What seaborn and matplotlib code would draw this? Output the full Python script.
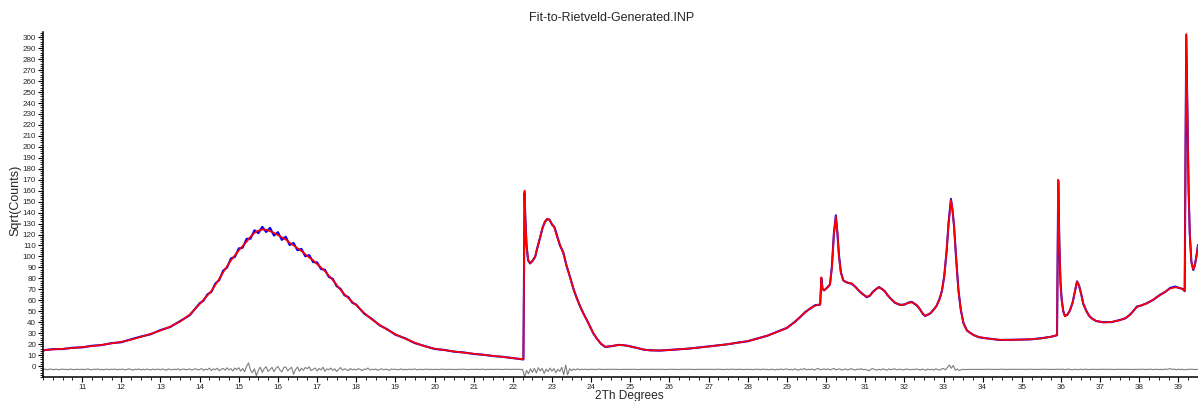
import numpy as np
import pandas as pd
import matplotlib
matplotlib.use("Agg")
import matplotlib.pyplot as plt
from matplotlib.ticker import MultipleLocator
import seaborn as sns

# ---------------- data ----------------
two_theta = [
    10.0, 10.25, 10.5, 10.75, 11.0, 11.25, 11.5, 11.75, 12.0, 12.25,
    12.5, 12.75, 13.0, 13.25, 13.5, 13.75, 14.0, 14.1, 14.2, 14.3,
    14.4, 14.5, 14.6, 14.7, 14.8, 14.9, 15.0, 15.1, 15.2, 15.3,
    15.4, 15.5, 15.6, 15.7, 15.8, 15.9, 16.0, 16.1, 16.2, 16.3,
    16.4, 16.5, 16.6, 16.7, 16.8, 16.9, 17.0, 17.1, 17.2, 17.3,
    17.4, 17.5, 17.6, 17.7, 17.8, 17.9, 18.0, 18.2, 18.4, 18.6,
    18.8, 19.0, 19.25, 19.5, 19.75, 20.0, 20.25, 20.5, 20.75, 21.0,
    21.25, 21.5, 21.75, 22.0, 22.27, 22.30, 22.32, 22.35, 22.39, 22.44,
    22.5, 22.57, 22.63, 22.7, 22.76, 22.82, 22.88, 22.94, 23.0, 23.06,
    23.12, 23.2, 23.29, 23.37, 23.46, 23.55, 23.63, 23.72, 23.8, 23.9,
    23.97, 24.05, 24.14, 24.25, 24.36, 24.46, 24.57, 24.7, 24.82, 24.95,
    25.08, 25.2, 25.35, 25.5, 25.75, 26.0, 26.5, 27.0, 27.5, 27.75,
    28.0, 28.25, 28.5, 28.75, 29.0, 29.2, 29.34, 29.47, 29.59, 29.72,
    29.85, 29.88, 29.91, 29.95, 30.02, 30.1, 30.15, 30.2, 30.25, 30.29,
    30.33, 30.38, 30.44, 30.5, 30.58, 30.66, 30.75, 30.83, 30.93, 31.04,
    31.12, 31.2, 31.28, 31.35, 31.43, 31.5, 31.57, 31.64, 31.76, 31.89,
    32.0, 32.1, 32.19, 32.26, 32.32, 32.4, 32.47, 32.53, 32.6, 32.67,
    32.74, 32.82, 32.9, 32.96, 33.02, 33.08, 33.13, 33.19, 33.23, 33.27,
    33.32, 33.38, 33.44, 33.51, 33.6, 33.76, 33.9, 34.1, 34.44, 34.8,
    35.21, 35.5, 35.75, 35.9, 35.93, 35.96, 35.99, 36.02, 36.06, 36.1,
    36.16, 36.23, 36.3, 36.36, 36.41, 36.46, 36.52, 36.57, 36.65, 36.72,
    36.78, 36.9, 37.08, 37.3, 37.51, 37.65, 37.76, 37.85, 37.94, 38.05,
    38.19, 38.35, 38.53, 38.66, 38.79, 38.92, 39.04, 39.11, 39.16, 39.2,
    39.23, 39.26, 39.29, 39.33, 39.38, 39.42, 39.46, 39.5]

calc_sqrt = [
    14.6, 15.1, 15.7, 16.4, 17.3, 18.2, 19.3, 20.6, 22.0, 24.1,
    26.6, 29.3, 32.4, 36.0, 40.5, 47.0, 56.5, 60.5, 64.5, 68.5,
    74.0, 79.5, 85.5, 91.0, 96.5, 101.0, 105.5, 109.5, 113.5, 118.0,
    121.5, 123.5, 124.5, 124.5, 123.0, 121.5, 119.5, 117.5, 115.5, 112.5,
    110.0, 107.5, 105.0, 102.0, 99.0, 96.5, 93.0, 90.0, 86.5, 82.5,
    78.5, 74.0, 69.5, 65.5, 62.0, 58.5, 55.5, 48.5, 42.5, 37.5,
    33.0, 29.0, 25.0, 21.2, 18.0, 15.8, 14.5, 13.3, 12.2, 11.2,
    10.2, 9.3, 8.3, 7.3, 6.2, 160.0, 135.0, 110.0, 97.0, 94.0,
    95.5, 100.0, 108.0, 118.0, 126.0, 132.0, 134.5, 133.0, 129.5, 126.5,
    119.0, 111.0, 103.0, 92.0, 81.0, 70.5, 62.0, 54.5, 48.0, 41.5,
    36.0, 30.5, 25.2, 20.5, 17.6, 17.8, 18.6, 19.2, 19.1, 18.3,
    17.3, 16.2, 15.0, 14.3, 14.2, 14.6, 16.0, 17.8, 20.0, 21.3,
    22.8, 25.0, 27.8, 31.0, 35.0, 40.0, 45.0, 49.0, 52.6, 55.0,
    56.5, 81.0, 70.0, 69.3, 71.0, 74.0, 90.0, 120.0, 136.5, 122.0,
    100.0, 85.0, 78.5, 76.5, 76.0, 75.4, 72.0, 69.3, 65.5, 63.2,
    64.5, 67.5, 70.5, 71.7, 70.5, 68.0, 65.0, 61.7, 58.0, 55.6,
    56.3, 57.5, 58.2, 57.0, 55.6, 51.5, 48.0, 46.0, 46.6, 48.5,
    51.0, 55.0, 61.0, 69.0, 82.0, 105.7, 130.0, 151.5, 143.0, 127.0,
    100.0, 69.3, 52.0, 38.9, 32.5, 28.3, 26.5, 25.2, 23.9, 23.9,
    24.4, 25.3, 26.8, 28.3, 170.0, 110.0, 75.0, 60.0, 50.0, 45.5,
    46.5, 51.0, 58.0, 69.0, 76.9, 74.0, 65.0, 57.0, 50.0, 46.0,
    43.5, 41.2, 39.8, 40.3, 41.9, 43.8, 46.5, 50.5, 54.0, 55.5,
    57.0, 60.5, 64.7, 67.8, 70.8, 71.8, 71.4, 70.0, 68.6, 303.0,
    230.0, 160.0, 121.0, 95.0, 88.0, 92.0, 100.0, 110.0]

obs_sqrt = [
    14.3, 15.4, 15.5, 16.7, 17.0, 18.5, 19.1, 20.9, 21.7, 24.4,
    26.9, 29.0, 32.8, 35.6, 41.0, 46.4, 57.2, 59.7, 65.4, 67.6,
    75.2, 78.4, 86.9, 89.8, 98.2, 99.5, 107.3, 108.0, 116.1, 116.2,
    123.9, 121.2, 127.0, 122.3, 126.1, 119.0, 122.2, 115.1, 118.0, 110.4,
    112.3, 105.6, 106.9, 100.1, 101.2, 94.8, 94.6, 88.5, 87.9, 81.3,
    79.6, 72.9, 70.4, 64.6, 62.9, 57.8, 56.1, 47.9, 43.0, 37.1,
    33.4, 28.6, 25.3, 20.9, 18.2, 15.6, 14.7, 13.1, 12.4, 11.0,
    10.3, 9.1, 8.4, 7.2, 6.0, 158.0, 134.0, 110.5, 96.4, 93.6,
    95.9, 99.6, 108.5, 117.5, 126.4, 131.5, 134.0, 133.5, 129.0, 127.0,
    120.2, 110.4, 103.5, 91.6, 81.4, 70.1, 62.3, 54.2, 48.3, 41.2,
    36.3, 30.2, 25.4, 20.3, 17.4, 17.9, 18.4, 19.3, 19.0, 18.4,
    17.2, 16.3, 14.9, 14.4, 14.1, 14.7, 15.9, 17.9, 19.9, 21.4,
    22.6, 25.2, 27.6, 31.3, 34.7, 40.3, 44.6, 49.4, 52.2, 55.5,
    56.0, 80.0, 70.4, 69.0, 71.3, 74.5, 91.0, 121.0, 137.5, 121.0,
    101.0, 85.4, 78.2, 76.8, 75.7, 75.0, 72.3, 69.0, 65.9, 62.8,
    64.1, 67.9, 70.2, 72.1, 70.2, 68.3, 64.7, 62.0, 57.7, 55.9,
    56.0, 57.8, 58.6, 56.7, 55.2, 51.8, 47.6, 45.7, 46.9, 48.2,
    51.3, 54.7, 61.4, 68.6, 82.5, 105.0, 131.0, 152.5, 142.0, 127.5,
    99.4, 69.8, 51.6, 39.2, 32.3, 28.5, 26.3, 25.3, 23.8, 24.0,
    24.3, 25.4, 26.7, 28.1, 169.0, 110.5, 74.6, 60.3, 49.7, 45.8,
    46.8, 50.7, 58.3, 68.6, 77.3, 73.6, 65.3, 56.7, 50.2, 45.8,
    43.7, 41.0, 40.0, 40.1, 42.1, 43.6, 46.8, 50.2, 54.3, 55.2,
    57.3, 60.2, 65.0, 67.5, 71.3, 72.5, 71.0, 70.4, 68.3, 302.0,
    229.0, 160.5, 120.5, 95.4, 87.6, 92.3, 100.4, 110.5]

# difference curve (drawn with its offset) on the 2Th step grid
diff_start = 10.0
diff_step = 0.05
diff_sqrt = [
    -3.2, -2.8, -3.4, -3.0, -2.7, -3.3, -3.1, -2.9, -3.5, -3.0, -2.8, -3.2, -3.0, -3.4, -2.7, -3.1, -3.3, -2.9, -3.0, -3.2,
    -2.9, -3.3, -3.0, -2.6, -3.2, -3.4, -2.9, -3.1, -2.7, -3.3, -3.0, -3.5, -2.8, -3.1, -3.3, -2.9, -3.2, -2.7, -3.4, -3.0,
    -3.1, -2.8, -3.6, -3.0, -2.5, -3.3, -3.7, -2.9, -3.2, -2.6, -3.5, -3.0, -3.4, -2.8, -3.1, -3.6, -2.7, -3.3, -3.0, -2.9,
    -3.4, -2.7, -3.2, -3.8, -2.6, -3.1, -3.5, -2.8, -3.3, -2.5, -3.7, -3.0, -2.7, -3.4, -3.1, -2.6, -3.6, -3.0, -2.4, -3.5,
    -3.1, -2.3, -3.9, -2.8, -3.4, -1.9, -4.1, -2.6, -3.3, -2.0, -4.3, -3.0, -2.2, -3.8, -1.6, -3.5, -2.4, -4.4, -1.9, -3.2,
    -1.5, -4.6, -2.2, -5.2, -0.2, 2.9, -3.8, -6.0, -2.5, -8.9, -4.0, -1.0, -5.8, -2.3, -0.6, -4.9, -3.0, -1.2, -5.1, -2.0,
    -0.4, -3.6, -5.3, -1.4, -0.8, -4.5, -2.6, -1.1, -7.4, -3.2, -0.9, -4.8, -2.0, -3.9, -1.3, -2.4, -0.7, -4.2, -3.0, -1.8,
    -4.5, -2.2, -3.6, -1.0, -4.8, -2.7, -3.3, -1.9, -4.0, -2.5, -5.0, -3.1, -1.4, -3.8, -2.6, -3.2, -4.1, -2.3, -3.5, -2.8,
    -3.6, -2.4, -3.0, -4.2, -2.7, -3.3, -1.8, -3.7, -2.9, -3.4, -2.6, -4.0, -3.1, -2.5, -3.5, -2.8, -3.2, -3.9, -2.7, -3.1,
    -2.9, -3.4, -3.1, -2.6, -3.5, -3.0, -3.3, -2.8, -3.2, -3.0, -2.7, -3.4, -3.1, -2.9, -3.3, -3.0, -2.8, -3.2, -3.0, -3.1,
    -3.2, -2.9, -3.3, -3.0, -2.8, -3.2, -3.0, -3.1, -2.9, -3.2, -3.0, -3.3, -2.9, -3.1, -3.0, -2.8, -3.2, -3.1, -2.9, -3.0,
    -3.1, -3.0, -2.9, -3.2, -3.0, -2.8, -3.3, -3.0, -3.1, -2.9, -3.2, -3.0, -2.9, -3.1, -3.0, -3.2, -2.9, -3.0, -3.1, -3.0,
    -3.0, -3.1, -2.9, -3.0, -3.2, -3.0, -10.0, -4.0, -7.0, -2.5, -5.8, -2.0, -6.3, -1.5, -4.4, -2.2, -6.8, -2.8, -5.0, -1.9,
    -4.6, -2.3, -6.1, -3.0, -4.8, -1.2, -7.9, 0.9, -8.0, -2.4, -4.2, -2.7, -3.6, -2.5, -3.4, -2.9, -3.2, -2.8, -3.3, -3.0,
    -3.1, -2.9, -3.2, -3.0, -2.8, -3.1, -3.0, -3.2, -2.9, -3.0, -3.1, -3.0, -2.9, -3.1, -3.0, -3.2, -3.0, -2.9, -3.1, -3.0,
    -3.0, -3.1, -2.9, -3.0, -3.2, -3.0, -2.9, -3.1, -3.0, -3.0, -3.1, -2.9, -3.0, -3.1, -3.0, -2.9, -3.1, -3.0, -3.2, -3.0,
    -3.1, -2.9, -3.0, -3.1, -3.0, -3.2, -2.9, -3.0, -3.1, -3.0, -2.9, -3.1, -3.0, -3.2, -3.0, -2.9, -3.1, -3.0, -3.0, -3.1,
    -2.9, -3.1, -3.0, -3.2, -2.8, -3.0, -3.1, -3.0, -3.3, -2.9, -3.0, -3.1, -2.8, -3.2, -3.0, -3.1, -2.9, -3.0, -3.2, -3.0,
    -2.9, -3.2, -3.0, -3.4, -2.8, -3.1, -3.0, -3.3, -2.7, -3.2, -3.0, -3.4, -2.8, -3.1, -3.5, -2.9, -3.2, -2.7, -3.3, -3.0,
    -2.6, -3.4, -2.9, -3.6, -2.5, -3.2, -3.7, -2.8, -3.1, -2.3, -3.5, -2.9, -3.3, -2.6, -3.8, -2.7, -2.2, -3.4, -3.0, -2.6,
    -3.3, -2.5, -3.6, -2.8, -2.2, -3.4, -3.0, -2.6, -3.7, -3.1, -2.7, -3.5, -2.9, -2.4, -3.3, -3.6, -2.8, -3.1, -2.5, -3.4,
    -3.0, -3.6, -4.3, -2.8, -2.4, -3.3, -3.7, -2.9, -3.5, -2.6, -3.1, -3.8, -2.7, -3.2, -3.0, -2.5, -3.4, -3.1, -2.8, -3.5,
    -3.2, -2.7, -3.0, -3.5, -2.9, -3.3, -2.6, -3.1, -3.6, -2.8, -3.2, -3.9, -2.7, -3.4, -2.9, -3.7, -2.5, -3.1, -3.8, -2.6,
    -2.3, -3.5, -1.2, 0.9, -2.0, 0.6, -3.9, -2.6, -4.0, -3.4, -3.0, -3.2, -3.1, -2.9, -3.0, -3.2, -3.0, -3.1, -3.0, -3.1,
    -3.0, -3.1, -3.0, -2.9, -3.0, -3.1, -3.0, -3.0, -3.1, -3.0, -2.9, -3.0, -3.1, -3.0, -3.0, -3.1, -3.0, -2.9, -3.0, -3.1,
    -3.0, -3.0, -3.1, -3.0, -2.9, -3.0, -3.1, -3.0, -3.0, -3.1, -3.0, -2.9, -3.0, -3.0, -3.1, -3.0, -3.0, -3.1, -2.9, -3.0,
    -3.1, -2.8, -3.3, -3.0, -2.7, -3.2, -3.4, -2.9, -3.1, -3.3, -2.8, -3.2, -3.0, -2.9, -3.3, -3.0, -3.1, -2.9, -3.2, -3.0,
    -3.0, -3.1, -3.0, -2.9, -3.1, -3.0, -3.0, -3.2, -3.0, -2.9, -3.1, -3.0, -3.0, -3.1, -2.9, -3.0, -3.2, -3.0, -3.1, -3.0,
    -3.1, -3.0, -2.9, -3.2, -3.0, -3.1, -2.8, -3.3, -3.0, -2.9, -3.2, -3.0, -3.3, -2.8, -3.1, -2.6, -2.4, -3.2, -2.7, -3.4,
    -2.8, -3.3, -2.9, -3.5, -3.0, -3.2, -2.8, -3.1, -3.0, -3.2, -3.0]

title_text = "Fit-to-Rietveld-Generated.INP"
x_label = "2Th Degrees"
y_label = "Sqrt(Counts)"

# ---------------- build frames ----------------
assert len(two_theta) == len(calc_sqrt) == len(obs_sqrt)
prof = pd.DataFrame({"tt": two_theta, "obs": obs_sqrt, "calc": calc_sqrt})
diff_tt = diff_start + diff_step * np.arange(len(diff_sqrt))
diff = pd.DataFrame({"tt": diff_tt, "diff": diff_sqrt})

# ---------------- plot ----------------
sns.set_style("ticks")
plt.rcParams["font.family"] = ["Liberation Sans", "DejaVu Sans"]

fig = plt.figure(figsize=(11.98, 4.01), dpi=100)
ax = fig.add_axes([43 / 1198, 24 / 401, 1 - 43 / 1198, (377 - 32) / 401])

sns.lineplot(data=diff, x="tt", y="diff", ax=ax, color="#7f7f7f",
             linewidth=0.8, estimator=None, sort=False)
sns.lineplot(data=prof, x="tt", y="obs", ax=ax, color="#0000ff",
             linewidth=1.5, estimator=None, sort=False)
sns.lineplot(data=prof, x="tt", y="calc", ax=ax, color="#ff0000",
             linewidth=1.25, estimator=None, sort=False)

ax.set_xlim(10.0, 39.5)
ax.set_ylim(-10.0, 304.8)

xt = np.arange(11, 40)
ax.set_xticks(xt)
ax.set_xticklabels([str(v) for v in xt])
yt = np.arange(0, 301, 10)
ax.set_yticks(yt)
ax.set_yticklabels([str(v) for v in yt])
ax.xaxis.set_minor_locator(MultipleLocator(0.25))
ax.yaxis.set_minor_locator(MultipleLocator(2))

ax.tick_params(axis="both", which="major", labelsize=5.8, length=3.5,
               width=0.8, color="black", pad=1.5, direction="out")
ax.tick_params(axis="both", which="minor", length=2, width=0.6,
               color="black", direction="out")

for s in ["top", "right"]:
    ax.spines[s].set_visible(False)
for s in ["left", "bottom"]:
    ax.spines[s].set_linewidth(1.1)
    ax.spines[s].set_color("black")

ax.set_xlabel("")
ax.set_ylabel("")
ax.grid(False)

fig.text(612 / 1198, 1 - 18 / 401, title_text, ha="center", va="center",
         fontsize=9)
fig.text(629 / 1198, 1 - 396 / 401, x_label, ha="center", va="center",
         fontsize=8.6)
fig.text(15 / 1198, 1 - 200 / 401, y_label, ha="center", va="center",
         rotation=90, fontsize=9)

fig.savefig("out.png", dpi=100)
